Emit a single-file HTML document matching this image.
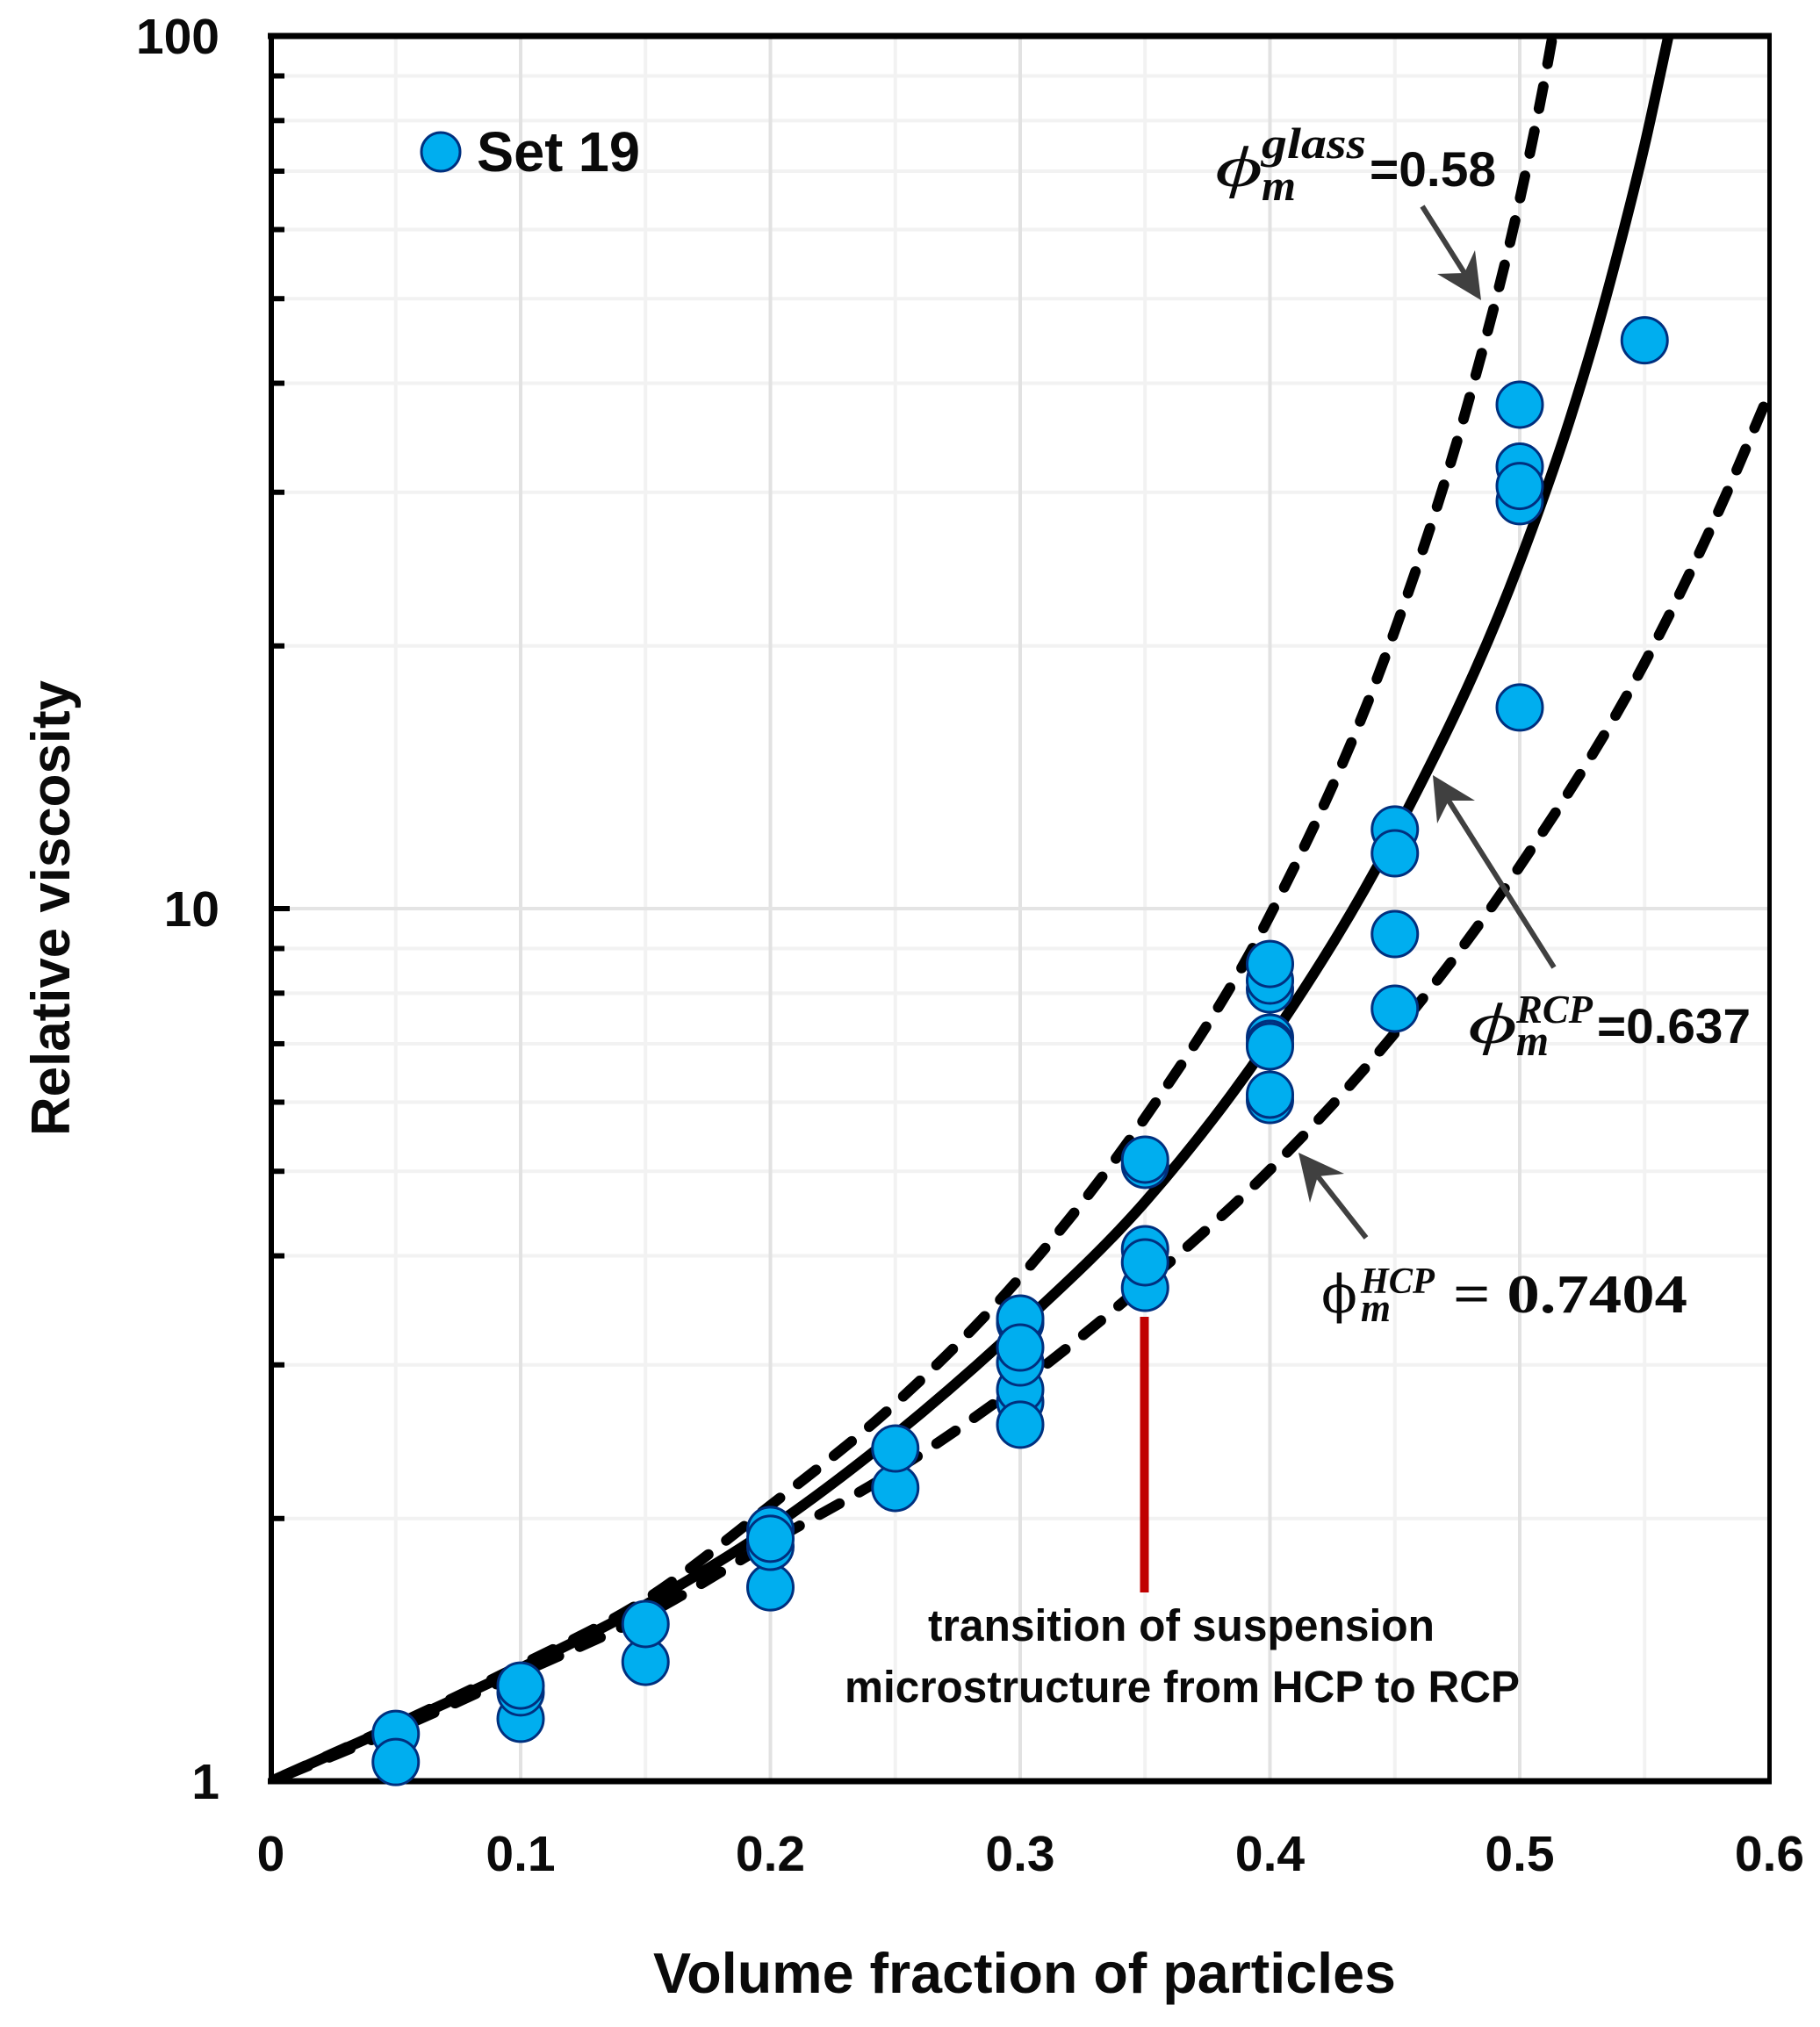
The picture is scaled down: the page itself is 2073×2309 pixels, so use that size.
<!DOCTYPE html>
<html lang="en">
<head>
<meta charset="utf-8">
<title>Relative viscosity vs volume fraction of particles</title>
<style>
html,body{margin:0;padding:0;background:#fff;}
svg{display:block;}
text{font-family:"Liberation Sans",sans-serif;font-weight:bold;fill:#0a0a0a;}
.math{font-family:"Liberation Serif",serif;font-style:italic;font-weight:bold;}
</style>
</head>
<body>
<svg id="chart" xmlns="http://www.w3.org/2000/svg" width="2073" height="2309" viewBox="0 0 2073 2309">
  <rect x="0" y="0" width="2073" height="2309" fill="#fff"/>
  <defs><clipPath id="plot-clip"><rect x="308" y="41" width="1707" height="1988"/></clipPath></defs>
  <g id="grid"></g>
  <g id="curves" clip-path="url(#plot-clip)"></g>
  <g id="frame"></g>
  <line x1="1303.5" y1="1500" x2="1303.5" y2="1814" stroke="#c00000" stroke-width="10"/>
  <g id="points"></g>
  <g id="ticks"></g>

  <g>
    <circle cx="502" cy="173" r="22" fill="#00aeef" stroke="#00307f" stroke-width="3"/>
    <text x="543" y="195" font-size="64" textLength="186" lengthAdjust="spacingAndGlyphs">Set 19</text>
  </g>

  <text transform="translate(79,1294) rotate(-90)" font-size="62" textLength="519" lengthAdjust="spacingAndGlyphs">Relative viscosity</text>
  <text x="744" y="2270" font-size="65" textLength="846" lengthAdjust="spacingAndGlyphs">Volume fraction of particles</text>

  <text x="1057" y="1869" font-size="51" textLength="577" lengthAdjust="spacingAndGlyphs">transition of suspension</text>
  <text x="962" y="1939" font-size="51" textLength="769" lengthAdjust="spacingAndGlyphs">microstructure from HCP to RCP</text>

  <g>
    <text class="math" x="1384" y="212" font-size="66" textLength="54" lengthAdjust="spacingAndGlyphs" style="font-weight:normal">&#981;</text>
    <text class="math" x="1437" y="180" font-size="50" textLength="119" lengthAdjust="spacingAndGlyphs">glass</text>
    <text class="math" x="1437" y="228" font-size="50" textLength="39" lengthAdjust="spacingAndGlyphs">m</text>
    <text x="1560" y="212" font-size="56" textLength="144" lengthAdjust="spacingAndGlyphs">=0.58</text>
    <g>
      <line x1="1620" y1="235" x2="1668" y2="311" stroke="#404040" stroke-width="6"/>
      <polygon points="1687,342 1637,312 1668,311 1680,285" fill="#404040"/>
    </g>
  </g>

  <g>
    <text class="math" x="1672" y="1188" font-size="66" textLength="56" lengthAdjust="spacingAndGlyphs" style="font-weight:normal">&#981;</text>
    <text class="math" x="1727" y="1165" font-size="46" textLength="87" lengthAdjust="spacingAndGlyphs">RCP</text>
    <text class="math" x="1727" y="1202" font-size="50" textLength="37" lengthAdjust="spacingAndGlyphs">m</text>
    <text x="1819" y="1188" font-size="56" textLength="175" lengthAdjust="spacingAndGlyphs">=0.637</text>
    <g>
      <line x1="1770" y1="1102" x2="1650" y2="912" stroke="#404040" stroke-width="6"/>
      <polygon points="1632,883 1680,912 1650,912 1637,938" fill="#404040"/>
    </g>
  </g>

  <g>
    <text x="1505" y="1495" font-size="60" style="font-family:'DejaVu Serif',serif;font-weight:normal">&#981;</text>
    <text class="math" x="1550" y="1473" font-size="42" textLength="84" lengthAdjust="spacingAndGlyphs">HCP</text>
    <text class="math" x="1550" y="1505" font-size="46" textLength="34" lengthAdjust="spacingAndGlyphs">m</text>
    <text x="1655" y="1495" font-size="62" textLength="267" lengthAdjust="spacingAndGlyphs" style="font-family:'Liberation Serif',serif">= 0.7404</text>
    <g>
      <line x1="1556" y1="1410" x2="1501" y2="1340" stroke="#404040" stroke-width="6"/>
      <polygon points="1479,1313 1531,1337 1501,1340 1492,1370" fill="#404040"/>
    </g>
  </g>
</svg>

<script>
var xTickLabels = ["0", "0.1", "0.2", "0.3", "0.4", "0.5", "0.6"];
var xTickValues = [0, 0.1, 0.2, 0.3, 0.4, 0.5, 0.6];
var xMinorValues = [0.05, 0.15, 0.25, 0.35, 0.45, 0.55];
var yTickLabels = ["1", "10", "100"];
var yTickValues = [1, 10, 100];
var yMinorValues = [2, 3, 4, 5, 6, 7, 8, 9, 20, 30, 40, 50, 60, 70, 80, 90];

var rcpPhi = [0, 0.05, 0.1, 0.15, 0.2, 0.25, 0.3, 0.35, 0.4, 0.45, 0.5, 0.52, 0.53, 0.54, 0.55, 0.56];
var rcpViscosity = [1, 1.157, 1.348, 1.593, 1.949, 2.497, 3.327, 4.613, 7.065, 12.18, 24.97, 36.3, 45.1, 57.5, 75.0, 101.4];
var glassPhi = [0, 0.05, 0.1, 0.15, 0.2, 0.25, 0.3, 0.35, 0.4, 0.45, 0.48, 0.5, 0.51, 0.515];
var glassViscosity = [1, 1.16, 1.358, 1.615, 2.07, 2.708, 3.78, 5.76, 9.82, 20.84, 38.6, 64.9, 89.3, 107];
var hcpPhi = [0, 0.05, 0.1, 0.15, 0.2, 0.25, 0.3, 0.35, 0.4, 0.45, 0.5, 0.55, 0.58, 0.6];
var hcpViscosity = [1, 1.146, 1.33, 1.549, 1.878, 2.27, 2.85, 3.72, 5.02, 7.2, 11.18, 19.13, 28.7, 39.0];

var pointPhi = [0.05, 0.05, 0.1, 0.1, 0.1, 0.15, 0.15, 0.2, 0.2, 0.2, 0.2, 0.25, 0.25,
  0.3, 0.3, 0.3, 0.3, 0.3, 0.3, 0.3, 0.35, 0.35, 0.35, 0.35, 0.35,
  0.4, 0.4, 0.4, 0.4, 0.4, 0.4, 0.4, 0.4, 0.45, 0.45, 0.45, 0.45,
  0.5, 0.5, 0.5, 0.5, 0.5, 0.55];
var pointViscosity = [1.133, 1.052, 1.179, 1.264, 1.287, 1.37, 1.514, 1.668, 1.856, 1.94, 1.896, 2.168, 2.406,
  2.72, 2.81, 3.019, 3.351, 3.39, 2.562, 3.14, 5.085, 5.156, 3.676, 4.071, 3.932,
  6.035, 6.12, 8.08, 8.27, 8.64, 7.114, 7.0, 6.952, 12.32, 11.57, 9.35, 7.68,
  37.8, 32.1, 29.3, 30.5, 17.0, 44.8];

var NS = "http://www.w3.org/2000/svg";
var plotLeft = 308.5, plotRight = 2015.5, plotTop = 41, plotBottom = 2029;
var dashOn = 26, dashPeriod = 52;
function xScale(v) { return plotLeft + (v / 0.6) * (plotRight - plotLeft); }
function yScale(v) { return plotBottom - (Math.log(v) / Math.LN10 / 2) * (plotBottom - plotTop); }

function make(tag, attrs, parent) {
  var el = document.createElementNS(NS, tag);
  for (var k in attrs) { el.setAttribute(k, attrs[k]); }
  parent.appendChild(el);
  return el;
}

function smoothPath(phis, vals) {
  var xs = phis.map(xScale), ys = vals.map(yScale), n = xs.length, m = [];
  for (var i = 0; i < n; i++) {
    if (i === 0) { m.push((ys[1] - ys[0]) / (xs[1] - xs[0])); }
    else if (i === n - 1) { m.push((ys[n - 1] - ys[n - 2]) / (xs[n - 1] - xs[n - 2])); }
    else {
      var d0 = xs[i] - xs[i - 1], d1 = xs[i + 1] - xs[i];
      m.push((((ys[i + 1] - ys[i]) / d1) * d0 + ((ys[i] - ys[i - 1]) / d0) * d1) / (d0 + d1));
    }
  }
  var d = "M" + xs[0].toFixed(1) + " " + ys[0].toFixed(1);
  for (var j = 0; j < n - 1; j++) {
    var h = (xs[j + 1] - xs[j]) / 3;
    d += "C" + (xs[j] + h).toFixed(1) + " " + (ys[j] + m[j] * h).toFixed(1) + " " +
      (xs[j + 1] - h).toFixed(1) + " " + (ys[j + 1] - m[j + 1] * h).toFixed(1) + " " +
      xs[j + 1].toFixed(1) + " " + ys[j + 1].toFixed(1);
  }
  return d;
}

/* centre one dash of the pattern on the curve at a given phi */
function alignDash(path, phi) {
  var target = xScale(phi), lo = 0, hi = path.getTotalLength();
  for (var i = 0; i < 40; i++) {
    var mid = (lo + hi) / 2;
    if (path.getPointAtLength(mid).x < target) { lo = mid; } else { hi = mid; }
  }
  var off = ((dashOn / 2 - lo) % dashPeriod + dashPeriod) % dashPeriod;
  path.setAttribute("stroke-dashoffset", off.toFixed(2));
}

var grid = document.getElementById("grid");
var curves = document.getElementById("curves");
var frame = document.getElementById("frame");
var points = document.getElementById("points");
var ticks = document.getElementById("ticks");

yMinorValues.forEach(function (v) {
  var gl = make("line", { x1: plotLeft, x2: plotRight, y1: yScale(v), y2: yScale(v), stroke: "#f2f2f2", "stroke-width": 4 }, grid);
  
  
  var tk = make("line", { x1: plotLeft, x2: 324, y1: yScale(v), y2: yScale(v), stroke: "#000", "stroke-width": 6 }, frame);
  
  
});
xMinorValues.forEach(function (v) {
  var gl = make("line", { x1: xScale(v), x2: xScale(v), y1: plotTop, y2: plotBottom, stroke: "#f2f2f2", "stroke-width": 4 }, grid);
  
  
});
xTickValues.forEach(function (v) {
  var gl = make("line", { x1: xScale(v), x2: xScale(v), y1: plotTop, y2: plotBottom, stroke: "#e2e2e2", "stroke-width": 4 }, grid);
  
  
});
yTickValues.forEach(function (v) {
  var gl = make("line", { x1: plotLeft, x2: plotRight, y1: yScale(v), y2: yScale(v), stroke: "#e4e4e4", "stroke-width": 4 }, grid);
  
  
  var tk = make("line", { x1: plotLeft, x2: 330, y1: yScale(v), y2: yScale(v), stroke: "#000", "stroke-width": 6 }, frame);
  
  
});

var glassLine = make("path", { d: smoothPath(glassPhi, glassViscosity), fill: "none", stroke: "#000", "stroke-width": 12, "stroke-dasharray": dashOn + " " + (dashPeriod - dashOn), "stroke-linecap": "round" }, curves);


alignDash(glassLine, 0.3995);
var hcpLine = make("path", { d: smoothPath(hcpPhi, hcpViscosity), fill: "none", stroke: "#000", "stroke-width": 12, "stroke-dasharray": dashOn + " " + (dashPeriod - dashOn), "stroke-linecap": "round" }, curves);


alignDash(hcpLine, 0.4697);
var rcpLine = make("path", { d: smoothPath(rcpPhi, rcpViscosity), fill: "none", stroke: "#000", "stroke-width": 12 }, curves);



var axisTop = make("line", { x1: 305, x2: 2018, y1: plotTop, y2: plotTop, stroke: "#000", "stroke-width": 7 }, frame);


var axisBottom = make("line", { x1: 305, x2: 2018, y1: plotBottom, y2: plotBottom, stroke: "#000", "stroke-width": 7 }, frame);


var axisLeft = make("line", { x1: 309, x2: 309, y1: plotTop, y2: plotBottom, stroke: "#000", "stroke-width": 6 }, frame);


var axisRight = make("line", { x1: 2015.5, x2: 2015.5, y1: plotTop, y2: plotBottom, stroke: "#000", "stroke-width": 5 }, frame);



pointPhi.forEach(function (p, i) {
  var c = make("circle", { cx: xScale(p), cy: yScale(pointViscosity[i]), r: 26, fill: "#00aeef", stroke: "#00307f", "stroke-width": 3 }, points);
  
  
});

xTickLabels.forEach(function (label, i) {
  var t = make("text", { x: xScale(xTickValues[i]), y: 2131, "font-size": 57, "text-anchor": "middle" }, ticks);
  t.textContent = label;
  
  
});
yTickLabels.forEach(function (label, i) {
  var t = make("text", { x: 250, y: yScale(yTickValues[i]) + 20, "font-size": 57, "text-anchor": "end" }, ticks);
  t.textContent = label;
  
  
});
</script>
</body>
</html>
